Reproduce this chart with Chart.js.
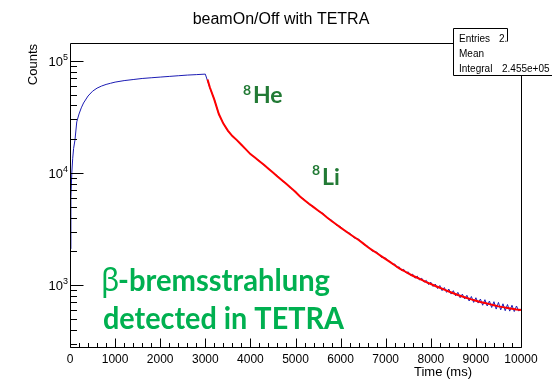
<!DOCTYPE html>
<html>
<head>
<meta charset="utf-8">
<script src="https://cdn.jsdelivr.net/npm/chart.js@4/dist/chart.umd.min.js"></script>
<style>
  html, body { margin: 0; padding: 0; background: #fff; }
  #wrap { width: 552px; height: 382px; }
</style>
</head>
<body>
<div id="wrap"><canvas id="c" width="552" height="382"></canvas></div>
<script>
// ---- data ----
const riseTime = [0,20,40,60,80,110,150,200,250,300,400,500,600,700,800,900,1000,1200,1400,1600,1800,2000,2200,2400,2600,2800,3000];
const riseCounts = [2100,6000,10000,13500,16500,19600,28500,33500,38000,42000,48500,53500,57000,59500,61500,63000,64500,66500,68000,69500,70500,71500,72500,73500,74500,75200,76000];

const decayTime = [3100,3200,3300,3400,3500,3600,3700,3800,3900,4000,4100,4200,4300,4400,4500,4600,4700,4800,4900,5000,
  5100,5200,5300,5400,5500,5600,5700,5800,5900,6000,6100,6200,6300,6400,6500,6600,6700,6800,6900,
  7000,7050,7100,7150,7200,7250,7300,7350,7400,7450,7500,7550,7600,7650,7700,7750,7800,7850,7900,7950,
  8000,8050,8100,8150,8200,8250,8300,8350,8400,8450,8500,8550,8600,8650,8700,8750,8800,8850,8900,8950,
  9000,9050,9100,9150,9200,9250,9300,9350,9400,9450,9500,9550,9600,9650,9700,9750,9800,9850,9900,9950,10000];
const decayCounts = [57500,45300,33200,27700,23600,21500,19400,17900,16100,14800,13600,12800,11700,11000,10000,9400,8500,8050,7250,6850,
  6100,5780,5220,5020,4560,4390,3950,3790,3430,3310,3000,2910,2630,2570,2310,2220,2010,1970,1770,
  1740,1640,1620,1530,1540,1430,1450,1350,1380,1280,1310,1220,1250,1150,1200,1110,1150,1060,1100,1010,
  1060,970,1020,930,990,890,950,860,920,830,890,800,860,770,830,750,810,720,790,700,
  770,690,750,660,740,650,720,630,710,610,700,600,680,590,670,585,660,580,650,585,615];

const fitTime = [3050,3100,3200,3300,3400,3500,3600,3700,3800,3900,4000,4100,4200,4300,4400,4500,4600,4700,4800,4900,5000,
  5100,5200,5300,5400,5500,5600,5700,5800,5900,6000,6100,6200,6300,6400,6500,6600,6700,6800,6900,7000,
  7100,7200,7300,7400,7500,7600,7700,7800,7900,8000,8100,8200,8300,8400,8500,8600,8700,8800,8900,9000,
  9100,9200,9300,9400,9500,9600,9700,9800,9900,10000];
const fitCounts = [68000,58000,45000,33500,27500,23800,21300,19600,17800,16200,14700,13700,12700,11800,10900,10100,9300,8600,7950,7350,6750,
  6150,5700,5300,4950,4620,4320,4000,3720,3480,3250,3050,2850,2680,2520,2350,2180,2050,1930,1810,1700,
  1600,1500,1410,1340,1270,1210,1160,1110,1060,1020,980,945,910,875,845,815,790,765,745,725,
  705,690,675,660,645,635,625,615,605,600];

const xTickValues = [0,1000,2000,3000,4000,5000,6000,7000,8000,9000,10000];
const yMajorTicks = [1000,10000,100000];
const yTickExponents = ['3','4','5'];

const X_MIN = 0, X_MAX = 10000, Y_MIN = 280, Y_MAX = 144000;

// ---- build tables ----
const bluePts = riseTime.map((t,i)=>({x:t,y:riseCounts[i]}))
  .concat(decayTime.map((t,i)=>({x:t,y:decayCounts[i]})));
const redPts = fitTime.map((t,i)=>({x:t,y:fitCounts[i]}));

const decor = {
  id: 'decor',
  afterDatasetsDraw(chart) {
    const {ctx, chartArea:a, scales:{x,y}} = chart;
    ctx.save();
    ctx.strokeStyle = '#000';
    ctx.lineWidth = 1;
    const seg = (x1,y1,x2,y2)=>{ctx.beginPath();ctx.moveTo(x1,y1);ctx.lineTo(x2,y2);ctx.stroke();};
    const L = Math.round(a.left)+0.5, R = Math.round(a.right)+0.5, T = Math.round(a.top)+0.5, B = Math.round(a.bottom)+0.5;
    // x ticks (inside)
    for (let v = X_MIN; v <= X_MAX; v += 200) {
      const px = Math.round(x.getPixelForValue(v)) + 0.5;
      const len = (v % 1000 === 0) ? 9 : 4.5;
      seg(px, B, px, B - len);
    }
    // y ticks (inside)
    for (const d of [100,1000,10000,100000]) {
      for (let m = 1; m <= 9; m++) {
        const v = m*d;
        if (v < Y_MIN || v > Y_MAX) continue;
        const py = Math.round(y.getPixelForValue(v)) + 0.5;
        seg(L, py, L + (m===1 ? 13 : 6.5), py);
      }
    }
    // y tick labels 10^n
    ctx.fillStyle = '#000';
    yMajorTicks.forEach((v, i) => {
      const py = y.getPixelForValue(v);
      ctx.font = '9px "Liberation Sans", Arial, sans-serif';
      ctx.textAlign = 'right';
      ctx.textBaseline = 'alphabetic';
      ctx.fillText(yTickExponents[i], 68, py - 1);
      const ew = ctx.measureText(yTickExponents[i]).width;
      ctx.font = '13px "Liberation Sans", Arial, sans-serif';
      ctx.fillText('10', 68 - ew, py + 5);
    });
    // frame
    seg(L, T, L, B); seg(L, B, R, B); seg(R, B, R, T); seg(L, T, R, T);
    // stats box
    ctx.fillStyle = '#fff';
    ctx.fillRect(453, 28, 120, 47);
    ctx.fillRect(507, 0, 60, 28);
    seg(453.5, 28.5, 507.5, 28.5);
    seg(453.5, 28.5, 453.5, 75.5);
    seg(453.5, 75.5, 552, 75.5);
    seg(507.5, 28.5, 507.5, 41.5);
    ctx.fillStyle = '#000';
    ctx.font = '10px "Liberation Sans", Arial, sans-serif';
    ctx.textBaseline = 'alphabetic';
    ctx.textAlign = 'left';
    ctx.fillText('Entries', 459, 42);
    ctx.save(); ctx.beginPath(); ctx.rect(453, 28, 54, 20); ctx.clip();
    ctx.fillText('2.455e+05', 499, 42);
    ctx.restore();
    ctx.fillText('Mean', 459, 57);
    ctx.fillText('Integral', 459, 72);
    ctx.fillText('2.455e+05', 502, 72);
    // title
    ctx.font = '16px "Liberation Sans", Arial, sans-serif';
    ctx.textAlign = 'center';
    ctx.fillText('beamOn/Off with TETRA', 281, 24);
    // axis titles
    ctx.font = '13px "Liberation Sans", Arial, sans-serif';
    ctx.textAlign = 'right';
    ctx.fillText('Time (ms)', 472, 376);
    ctx.save();
    ctx.translate(37, 44);
    ctx.rotate(-Math.PI/2);
    ctx.textAlign = 'right';
    ctx.fillText('Counts', 0, 0);
    ctx.restore();
    // annotations
    ctx.textAlign = 'left';
    ctx.fillStyle = '#227a35';
    ctx.font = 'bold 14px Lato, "Open Sans", sans-serif';
    ctx.fillText('8', 243, 95);
    ctx.fillText('8', 312, 175);
    ctx.font = 'bold 23px Lato, "Open Sans", sans-serif';
    ctx.fillText('He', 253, 103);
    ctx.fillText('Li', 322, 185);
    // big green text
    ctx.fillStyle = '#00b050';
    ctx.font = '30px "Noto Sans", "DejaVu Sans", sans-serif';
    ctx.fillText('\u03B2', 101, 291);
    const fitText = (txt, x0, yb, w) => {
      const m = ctx.measureText(txt).width;
      ctx.save(); ctx.translate(x0, yb); ctx.scale(w/m, 1); ctx.fillText(txt, 0, 0); ctx.restore();
    };
    ctx.font = 'bold 30px Lato, "Open Sans", sans-serif';
    fitText('-bremsstrahlung', 118, 291, 212);
    fitText('detected in TETRA', 103, 329, 241);
    ctx.restore();
  }
};

new Chart(document.getElementById('c'), {
  type: 'line',
  data: {
    datasets: [
      { data: redPts, borderColor: '#ff0000', borderWidth: 2, pointRadius: 0, tension: 0, order: 0 },
      { data: bluePts, borderColor: '#1c1cb4', borderWidth: 1, pointRadius: 0, tension: 0, order: 1 }
    ]
  },
  options: {
    responsive: false,
    animation: false,
    events: [],
    layout: { padding: { top: 43, right: 31, left: 0, bottom: 0 } },
    plugins: { legend: { display: false }, tooltip: { enabled: false }, title: { display: false } },
    scales: {
      x: {
        type: 'linear', min: X_MIN, max: X_MAX,
        grid: { display: false, drawTicks: false },
        border: { display: false },
        afterFit: s => { s.height = 35; },
        afterBuildTicks: s => { s.ticks = xTickValues.map(v => ({ value: v })); },
        ticks: { padding: 5, maxRotation: 0, autoSkip: false, color: '#000',
                 font: { family: '"Liberation Sans", Arial, sans-serif', size: 12 },
                 callback: v => String(v) }
      },
      y: {
        type: 'logarithmic', min: Y_MIN, max: Y_MAX,
        grid: { display: false, drawTicks: false },
        border: { display: false },
        afterFit: s => { s.width = 70; },
        afterBuildTicks: s => { s.ticks = yMajorTicks.map(v => ({ value: v })); },
        ticks: { padding: 3, autoSkip: false, color: '#000',
                 font: { family: '"Liberation Sans", Arial, sans-serif', size: 12 },
                 callback: () => '' }
      }
    }
  },
  plugins: [decor]
});
</script>
</body>
</html>
